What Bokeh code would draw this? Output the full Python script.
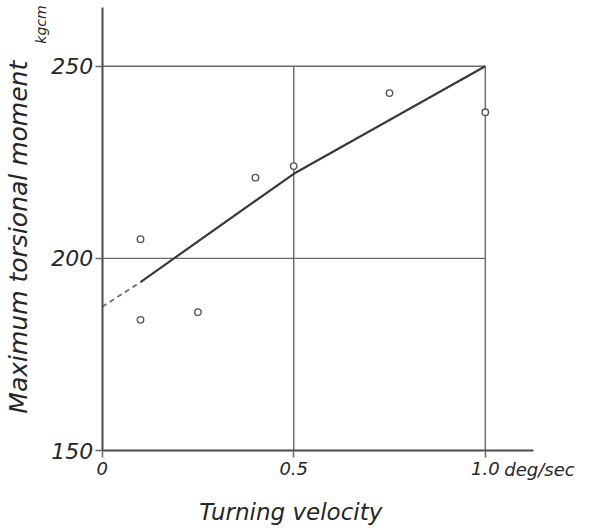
from math import pi
from bokeh.plotting import figure
from bokeh.models import Range1d, FixedTicker, Label, LinearAxis
from bokeh.embed import file_html
from bokeh.resources import INLINE

# ---- data ----
velocity = [0.1, 0.1, 0.25, 0.4, 0.5, 0.75, 1.0]          # deg/sec
moment = [205, 184, 186, 221, 224, 243, 238]              # kgcm

fit_x = [0.1, 0.1875, 0.5, 0.75, 1.0]
fit_y = [193.8, 200, 222, 236, 250]
ext_x = [0.0, 0.1]
ext_y = [187.4, 193.8]

x_ticks = [0, 0.5, 1.0]
x_tick_labels = ["0", "0.5", "1.0"]
x_unit = "deg/sec"
y_ticks = [150, 200, 250]
y_title = "Maximum torsional moment"
y_unit = "kgcm"
x_title = "Turning velocity"

# axis extents (ends of the drawn axis lines)
x_axis_end = 1.125
y_axis_end = 265.3

INK = "#262626"
LINE = "#4a4a4a"
GRID = "#6a6a6a"
FONT = "DejaVu Sans"

W, H = 613, 532
# pixel anchors for the frame
px0, px_per_x = 101.7, 383.1       # x = 0 at 101.7 px
py150, py_per_y = 450.0, 3.843     # y = 150 at 450 px
x_range = Range1d(-px0 / px_per_x, (W - px0) / px_per_x)
y_range = Range1d(150 - (H - py150) / py_per_y, 150 + py150 / py_per_y)

p = figure(width=W, height=H, output_backend="svg", toolbar_location=None,
           x_range=x_range, y_range=y_range,
           x_axis_type=None, y_axis_type=None, min_border=0)
p.outline_line_color = None
p.background_fill_color = "white"
p.border_fill_color = "white"

xaxis = LinearAxis(ticker=FixedTicker(ticks=x_ticks),
                   fixed_location=y_ticks[0], bounds=(x_ticks[0], x_axis_end))
xaxis.major_label_overrides = {t: s for t, s in zip(x_ticks, x_tick_labels)}
yaxis = LinearAxis(ticker=FixedTicker(ticks=y_ticks),
                   fixed_location=x_ticks[0], bounds=(y_ticks[0], y_axis_end))
for ax in (xaxis, yaxis):
    ax.axis_line_color = LINE
    ax.axis_line_width = 2
    ax.major_tick_in = 0
    ax.major_tick_out = 7
    ax.major_tick_line_color = GRID
    ax.major_tick_line_width = 1.5
    ax.minor_tick_line_color = None
    ax.major_label_text_font = FONT
    ax.major_label_text_font_style = "italic"
    ax.major_label_text_color = INK
xaxis.major_label_text_font_size = "18px"
xaxis.major_label_standoff = 4
yaxis.major_label_text_font_size = "22px"
yaxis.major_label_standoff = 2
p.add_layout(xaxis, "below")
p.add_layout(yaxis, "left")

# grid lines (drawn only up to the last ticks)
hy = y_ticks[1:]
p.segment(x0=[x_ticks[0]] * len(hy), y0=hy, x1=[x_ticks[-1]] * len(hy), y1=hy,
          line_color=GRID, line_width=1.4)
vx = x_ticks[1:]
p.segment(x0=vx, y0=[y_ticks[0]] * len(vx), x1=vx, y1=[y_ticks[-1]] * len(vx),
          line_color=GRID, line_width=1.4)

# fitted curve
p.line(ext_x, ext_y, line_color="#6a6a6a", line_width=1.8, line_dash="5 4")
p.line(fit_x, fit_y, line_color="#3a3a3a", line_width=2.2)

# measured points
p.scatter(velocity, moment, marker="circle", size=6.5, fill_color="white",
          line_color="#555555", line_width=1.4)

# texts
p.add_layout(Label(x=x_ticks[-1], y=y_ticks[0], x_offset=19, y_offset=-19,
                   text=x_unit, text_font=FONT, text_font_style="italic",
                   text_font_size="18px", text_color=INK,
                   text_align="left", text_baseline="middle"))
p.add_layout(Label(x=0.5, y=y_ticks[0], x_offset=-3, y_offset=-61, text=x_title,
                   text_font=FONT, text_font_style="italic",
                   text_font_size="23px", text_color=INK,
                   text_align="center", text_baseline="middle"))
p.add_layout(Label(x=0, y=205.5, x_offset=-83.7, text=y_title, angle=pi / 2,
                   text_font=FONT, text_font_style="italic",
                   text_font_size="25px", text_color=INK,
                   text_align="center", text_baseline="middle"))
p.add_layout(Label(x=0, y=260.85, x_offset=-61, text=y_unit, angle=pi / 2,
                   text_font=FONT, text_font_style="italic",
                   text_font_size="14px", text_color=INK,
                   text_align="center", text_baseline="middle"))

open("out.html", "w").write(file_html(p, INLINE))
